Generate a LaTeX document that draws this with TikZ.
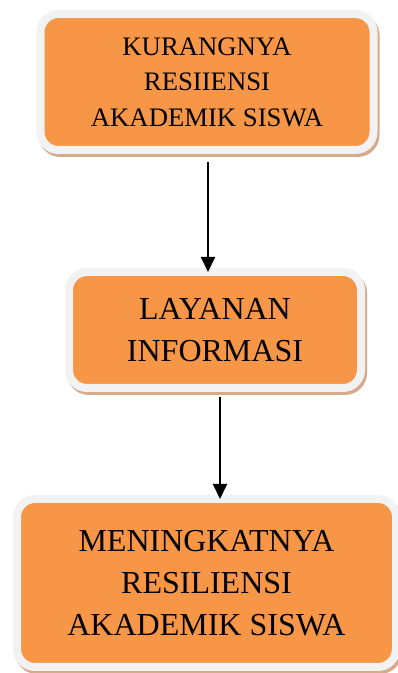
\documentclass[tikz,border=0pt]{standalone}
\usepackage{fontspec}
\setmainfont{Liberation Serif}
\usetikzlibrary{arrows.meta,positioning,shadows}
\definecolor{boxorange}{HTML}{F79646}
\definecolor{boxrim}{HTML}{F2F2F2}
\definecolor{boxshade}{HTML}{D6AB8C}

\begin{document}
\begin{tikzpicture}[
  x=1pt,y=1pt,
  flowbox/.style={draw=boxrim,fill=boxorange,line width=8pt,rounded corners=18pt,
    outer sep=0pt,inner sep=2pt,align=center,
    drop shadow={shadow xshift=2pt,shadow yshift=-3pt,draw=boxshade,fill=boxshade,line width=8pt,opacity=1}},
  ]
  \tikzset{%
    flowarrow/.style={
      line width=2pt,
      -{Triangle[length=15pt,width=14pt]},
    },
  }
  \useasboundingbox (0,0) rectangle (397,673);
  %Nodes
  \node[flowbox,minimum width=333pt,minimum height=136pt,
    font=\fontsize{26.7}{35.5}\selectfont](kurang) at (207,591)
    {KURANGNYA\\RESIIENSI\\AKADEMIK SISWA};
  \node[flowbox,minimum width=292pt,minimum height=116pt,
    font=\fontsize{32}{42}\selectfont,xshift=8pt](layanan)[below=122pt of kurang]
    {LAYANAN\\INFORMASI};
  \node[flowbox,minimum width=379pt,minimum height=168pt,
    font=\fontsize{32}{42}\selectfont,xshift=-8.5pt](meningkat)[below=111pt of layanan]
    {MENINGKATNYA\\RESILIENSI\\AKADEMIK SISWA};
  %Lines
  \draw[flowarrow] ([xshift=1pt,yshift=-12pt]kurang.south) -- ([xshift=1pt]kurang.south |- layanan.north);
  \draw[flowarrow] ([xshift=5pt,yshift=-9pt]layanan.south) -- ([xshift=5pt]layanan.south |- meningkat.north);
\end{tikzpicture}
\end{document}
